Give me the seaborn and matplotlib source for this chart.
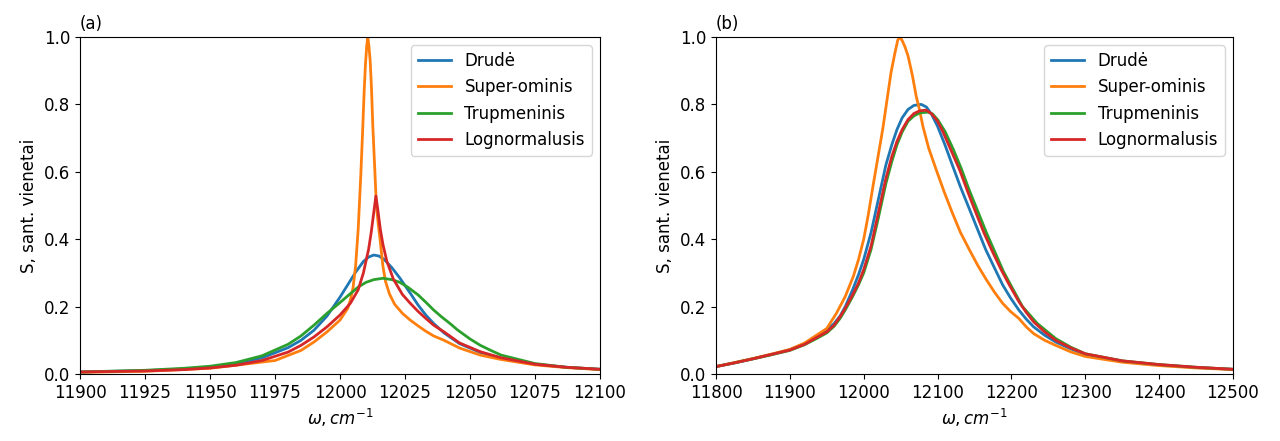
import numpy as np
import pandas as pd
import matplotlib
matplotlib.use("Agg")
import matplotlib.pyplot as plt
import seaborn as sns

labels = ["Drudė", "Super-ominis", "Trupmeninis", "Lognormalusis"]
colors = ["#1f77b4", "#ff7f0e", "#2ca02c", "#d62728"]

# ---------- panel (a) ----------
a_drude_w = [11900, 11925, 11940, 11950, 11960, 11970, 11980, 11985, 11990, 11995, 12000, 12003,
             12006, 12009, 12011, 12013, 12015, 12017, 12020, 12023, 12027, 12030, 12033, 12036,
             12040, 12046, 12054, 12062, 12075, 12087, 12100]
a_drude_s = [0.006, 0.010, 0.015, 0.021, 0.031, 0.048, 0.078, 0.100, 0.130, 0.172, 0.228, 0.265,
             0.302, 0.334, 0.347, 0.353, 0.350, 0.340, 0.315, 0.285, 0.240, 0.205, 0.175, 0.150,
             0.122, 0.090, 0.064, 0.047, 0.029, 0.020, 0.014]

a_super_w = [11900, 11925, 11950, 11975, 11985, 11990, 11995, 12000, 12003, 12004, 12005, 12006,
             12007, 12008, 12008.7, 12009.3, 12009.8, 12010.3, 12010.7, 12011.1, 12011.6, 12012.1,
             12012.6, 12013.3, 12014, 12014.7, 12015.4, 12016.5, 12017.5, 12019, 12021, 12024,
             12027, 12030, 12033, 12036, 12040, 12046, 12054, 12062, 12075, 12087, 12100]
a_super_s = [0.005, 0.008, 0.017, 0.040, 0.070, 0.095, 0.125, 0.160, 0.195, 0.220, 0.255, 0.320,
             0.430, 0.590, 0.720, 0.840, 0.920, 0.975, 1.0, 0.975, 0.930, 0.850,
             0.740, 0.620, 0.500, 0.445, 0.400, 0.320, 0.275, 0.238, 0.207, 0.180,
             0.160, 0.143, 0.127, 0.113, 0.100, 0.077, 0.056, 0.043, 0.027, 0.019, 0.013]

a_trup_w = [11900, 11925, 11940, 11950, 11960, 11970, 11980, 11985, 11990, 11995, 12000, 12003,
            12007, 12010, 12013, 12016.5, 12020, 12023, 12026, 12030, 12033, 12036, 12039, 12042.6,
            12045, 12050, 12054, 12058, 12062, 12075, 12087, 12100]
a_trup_s = [0.006, 0.011, 0.017, 0.023, 0.034, 0.054, 0.088, 0.113, 0.145, 0.180, 0.212, 0.232,
            0.258, 0.272, 0.280, 0.284, 0.280, 0.272, 0.258, 0.235, 0.213, 0.190, 0.170, 0.148,
            0.132, 0.104, 0.085, 0.070, 0.056, 0.031, 0.020, 0.014]

a_logn_w = [11900, 11925, 11940, 11950, 11960, 11970, 11980, 11985, 11990, 11995, 12000, 12004,
            12007, 12009, 12011, 12012, 12013, 12013.8, 12014.5, 12015.5, 12016.5, 12018, 12020.5,
            12024, 12027, 12030, 12033, 12036, 12040, 12046, 12054, 12062, 12075, 12087, 12100]
a_logn_s = [0.006, 0.009, 0.013, 0.018, 0.026, 0.040, 0.065, 0.085, 0.110, 0.140, 0.175, 0.210,
            0.250, 0.300, 0.370, 0.420, 0.480, 0.528, 0.490, 0.430, 0.385, 0.335, 0.282,
            0.236, 0.210, 0.186, 0.165, 0.145, 0.125, 0.092, 0.066, 0.048, 0.029, 0.020, 0.014]

# ---------- panel (b) ----------
b_drude_w = [11800, 11825, 11850, 11875, 11900, 11920, 11936, 11950, 11960, 11968, 11975, 11985,
             11993, 12000, 12010, 12020, 12030, 12038, 12045, 12052, 12060, 12068, 12078, 12085,
             12092, 12100, 12110, 12120, 12131, 12143, 12154, 12165, 12177, 12188, 12199, 12210,
             12220, 12230, 12245, 12260, 12280, 12300, 12350, 12400, 12450, 12500]
b_drude_s = [0.022, 0.033, 0.045, 0.058, 0.072, 0.090, 0.110, 0.130, 0.150, 0.172, 0.200, 0.250,
             0.295, 0.340, 0.420, 0.520, 0.620, 0.680, 0.725, 0.760, 0.785, 0.797, 0.800, 0.792,
             0.770, 0.735, 0.680, 0.620, 0.555, 0.490, 0.430, 0.370, 0.315, 0.265, 0.225, 0.190,
             0.163, 0.140, 0.115, 0.095, 0.075, 0.058, 0.038, 0.027, 0.019, 0.014]

b_super_w = [11800, 11825, 11850, 11875, 11900, 11920, 11936, 11950, 11963, 11975, 11986, 11993,
             12000, 12006, 12012, 12019, 12026, 12032, 12037, 12042, 12046, 12048.6, 12052, 12056,
             12060, 12066, 12071, 12076, 12080, 12088, 12098, 12109, 12120, 12131, 12143, 12155,
             12166, 12177, 12188, 12199, 12210, 12220, 12230, 12245, 12260, 12280, 12300, 12350,
             12400, 12450, 12500]
b_super_s = [0.022, 0.034, 0.046, 0.059, 0.073, 0.092, 0.115, 0.135, 0.180, 0.230, 0.290, 0.340,
             0.400, 0.470, 0.550, 0.640, 0.730, 0.820, 0.895, 0.950, 0.990, 1.0, 0.990, 0.970,
             0.944, 0.885, 0.825, 0.780, 0.736, 0.670, 0.607, 0.540, 0.478, 0.420, 0.369, 0.320,
             0.280, 0.243, 0.210, 0.185, 0.165, 0.140, 0.120, 0.100, 0.085, 0.066, 0.052, 0.035,
             0.025, 0.018, 0.013]

b_trup_w = [11800, 11825, 11850, 11875, 11900, 11920, 11936, 11950, 11960, 11968, 11975, 11985,
            11993, 12000, 12010, 12020, 12030, 12038, 12045, 12052, 12060, 12068, 12076, 12087,
            12093, 12100, 12110, 12121, 12132, 12143, 12155, 12166, 12178, 12189, 12200, 12215,
            12235, 12260, 12280, 12300, 12350, 12400, 12450, 12500]
b_trup_s = [0.022, 0.033, 0.045, 0.057, 0.070, 0.087, 0.105, 0.122, 0.142, 0.165, 0.190, 0.230,
            0.265, 0.300, 0.370, 0.465, 0.565, 0.630, 0.680, 0.718, 0.750, 0.766, 0.775, 0.777,
            0.772, 0.755, 0.720, 0.668, 0.610, 0.545, 0.480, 0.420, 0.360, 0.305, 0.260, 0.200,
            0.150, 0.105, 0.080, 0.060, 0.039, 0.028, 0.020, 0.014]

b_logn_w = [11800, 11825, 11850, 11875, 11900, 11920, 11936, 11950, 11960, 11968, 11975, 11985,
            11993, 12000, 12010, 12020, 12030, 12038, 12045, 12052, 12060, 12068, 12076, 12084.7,
            12092, 12100, 12107, 12118, 12130, 12141, 12152, 12163, 12175, 12186, 12197, 12210,
            12220, 12230, 12245, 12260, 12280, 12300, 12350, 12400, 12450, 12500]
b_logn_s = [0.022, 0.033, 0.045, 0.058, 0.071, 0.088, 0.108, 0.125, 0.145, 0.170, 0.195, 0.235,
            0.270, 0.310, 0.380, 0.480, 0.580, 0.645, 0.690, 0.725, 0.755, 0.773, 0.781, 0.783,
            0.772, 0.750, 0.720, 0.665, 0.605, 0.540, 0.478, 0.418, 0.360, 0.310, 0.265, 0.215,
            0.183, 0.155, 0.125, 0.100, 0.078, 0.060, 0.039, 0.028, 0.020, 0.014]

panel_a = [(a_drude_w, a_drude_s), (a_super_w, a_super_s), (a_trup_w, a_trup_s), (a_logn_w, a_logn_s)]
panel_b = [(b_drude_w, b_drude_s), (b_super_w, b_super_s), (b_trup_w, b_trup_s), (b_logn_w, b_logn_s)]

plt.rcParams["font.family"] = ["DejaVu Sans"]
plt.rcParams["font.size"] = 12

fig, axes = plt.subplots(1, 2, figsize=(12.8, 4.41), dpi=100)
axes[0].set_position([80 / 1280, 1 - 374 / 441, 520 / 1280, 337 / 441])
axes[1].set_position([716 / 1280, 1 - 374 / 441, 517 / 1280, 337 / 441])


def draw(ax, series, xlim, xticks, tag):
    frames = []
    for lab, (w, s) in zip(labels, series):
        frames.append(pd.DataFrame({"w": w, "S": s, "model": lab}))
    df = pd.concat(frames, ignore_index=True)
    sns.lineplot(data=df, x="w", y="S", hue="model", hue_order=labels,
                 palette=colors, linewidth=2, ax=ax, legend=False, sort=True,
                 estimator=None)
    ax.set_xlim(*xlim)
    ax.set_ylim(0, 1.0)
    ax.set_xticks(xticks)
    ax.set_xticklabels([str(t) for t in xticks])
    ax.set_yticks([0.0, 0.2, 0.4, 0.6, 0.8, 1.0])
    ax.set_xlabel(r"$\omega, cm^{-1}$")
    ax.set_ylabel("S, sant. vienetai")
    ax.set_title(tag, loc="left", fontsize=12)
    handles = [plt.Line2D([], [], color=c, linewidth=2) for c in colors]
    ax.legend(handles, labels, loc="upper right")


draw(axes[0], panel_a, (11900, 12100), [11900, 11925, 11950, 11975, 12000, 12025, 12050, 12075, 12100], "(a)")
draw(axes[1], panel_b, (11800, 12500), [11800, 11900, 12000, 12100, 12200, 12300, 12400, 12500], "(b)")

fig.savefig("out.png", dpi=100)
